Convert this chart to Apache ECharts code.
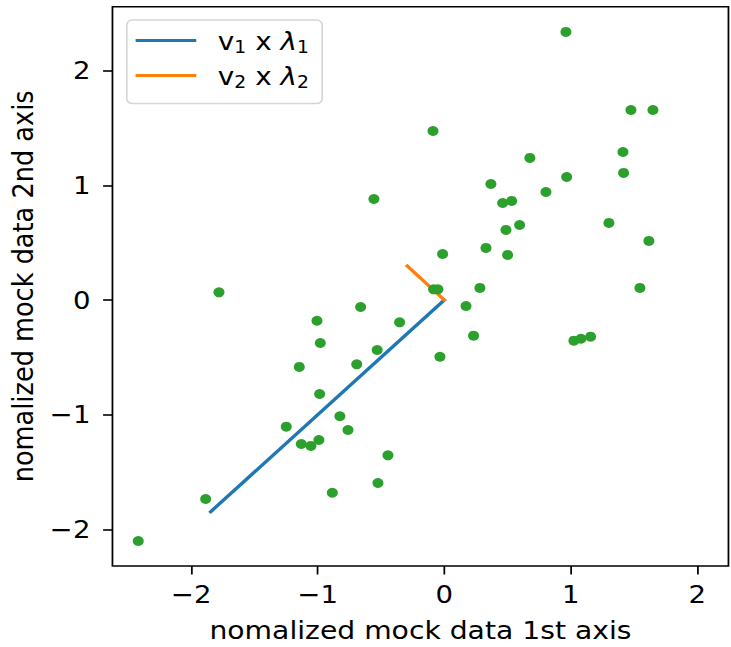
<!DOCTYPE html>
<html>
<head>
<meta charset="utf-8">
<script src="https://cdn.jsdelivr.net/npm/echarts@6/dist/echarts.min.js"></script>
<style>
html,body{margin:0;padding:0;overflow:hidden;background:#fff;}
#c{width:663px;height:647px;transform:scaleX(1.10256);transform-origin:0 0;}
</style>
</head>
<body>
<div id="c"></div>
<script>
// mock data (normalized)
var xValues = [-2.419,-1.886,-1.781,-1.249,-1.146,-1.130,-1.054,-1.006,-0.980,-0.985,
  -0.991,-0.885,-0.825,-0.761,-0.692,-0.661,-0.556,-0.530,-0.524,-0.445,
  -0.353,-0.089,-0.084,-0.050,-0.034,-0.013,0.172,0.232,0.282,0.330,
  0.369,0.462,0.488,0.501,0.533,0.596,0.677,0.804,0.962,0.968,
  1.025,1.081,1.157,1.302,1.413,1.418,1.476,1.547,1.618,1.650];
var yValues = [-2.102,-1.736,0.067,-1.105,-0.584,-1.256,-1.273,-0.181,-0.375,-0.820,
  -1.221,-1.681,-1.014,-1.134,-0.561,-0.061,0.881,-0.436,-1.596,-1.355,
  -0.195,1.474,0.093,0.093,-0.495,0.401,-0.052,-0.311,0.105,0.454,
  1.012,0.846,0.611,0.393,0.864,0.654,1.239,0.942,2.338,1.073,
  -0.355,-0.338,-0.320,0.672,1.291,1.108,1.657,0.105,0.515,1.657];
// eigenvector * eigenvalue segments (from origin)
var pc1 = [[0, 0], [-1.846, -1.846]];
var pc2 = [[0, 0], [-0.292, 0.297]];
var seriesNames = ['pc1', 'pc2'];
var xTicks = [-2, -1, 0, 1, 2];
var yTicks = [-2, -1, 0, 1, 2];
var xTitle = 'nomalized mock data 1st axis';
var yTitle = 'nomalized mock data 2nd axis';

var points = xValues.map(function (x, i) { return [x, yValues[i]]; });
var FONT = 'DejaVu Sans';
function fmt(v) { return v < 0 ? '\u2212' + Math.abs(v) : String(v); }

var chart = echarts.init(document.getElementById('c'), null, {renderer: 'svg', width: 663, height: 647});
chart.setOption({
  animation: false,
  backgroundColor: '#fff',
  grid: {left: 102, right: 2.3, top: 6.7, bottom: 81, show: true, borderColor: '#000', borderWidth: 1.6, outerBoundsMode: 'none', containLabel: false},
  legend: {
    data: seriesNames,
    orient: 'vertical',
    left: 115, top: 20,
    padding: [8, 12, 13, 8],
    itemGap: 7.6,
    itemWidth: 55, itemHeight: 3,
    icon: 'rect',
    borderColor: 'rgba(204,204,204,0.8)', borderWidth: 1.5, borderRadius: 5,
    backgroundColor: 'rgba(255,255,255,0.8)',
    formatter: function (name) {
      var k = name === 'pc1' ? '1' : '2';
      return '{g|}{n|v}{s|' + k + '}{n| x }{l|\u03bb}{s|' + k + '}';
    },
    textStyle: {
      fontFamily: FONT, color: '#000', fontSize: 25,
      rich: {
        g: {width: 14.6, lineHeight: 30},
        n: {fontFamily: FONT, fontSize: 25.3, lineHeight: 30, color: '#000'},
        l: {fontFamily: FONT, fontStyle: 'italic', fontSize: 25.3, lineHeight: 30, color: '#000'},
        s: {fontFamily: FONT, fontSize: 17, lineHeight: 17, verticalAlign: 'bottom', color: '#000'}
      }
    }
  },
  xAxis: {
    type: 'value', min: -2.623, max: 2.247,
    name: xTitle, nameLocation: 'middle', nameGap: 51,
    nameTextStyle: {fontFamily: FONT, fontSize: 25.6, color: '#000'},
    axisLine: {show: false, onZero: false},
    axisTick: {show: true, length: 8.5, customValues: xTicks, lineStyle: {color: '#000', width: 1.6}},
    axisLabel: {customValues: xTicks, margin: 16, fontFamily: FONT, fontSize: 25, color: '#000', formatter: fmt},
    splitLine: {show: false}
  },
  yAxis: {
    type: 'value', min: -2.32, max: 2.558,
    name: yTitle, nameLocation: 'middle', nameGap: 66,
    nameTextStyle: {fontFamily: FONT, fontSize: 25.6, color: '#000'},
    axisLine: {show: false, onZero: false},
    axisTick: {show: true, length: 8.5, customValues: yTicks, lineStyle: {color: '#000', width: 1.6}},
    axisLabel: {customValues: yTicks, margin: 20, fontFamily: FONT, fontSize: 25, color: '#000', formatter: fmt},
    splitLine: {show: false}
  },
  series: [
    {name: 'pc1', type: 'line', data: pc1, showSymbol: false, symbol: 'none', color: '#1f77b4',
     lineStyle: {color: '#1f77b4', width: 3.2, cap: 'square'}, z: 2},
    {name: 'pc2', type: 'line', data: pc2, showSymbol: false, symbol: 'none', color: '#ff7f0e',
     lineStyle: {color: '#ff7f0e', width: 3.2, cap: 'square'}, z: 2},
    {name: 'data', type: 'scatter', data: points, symbol: 'circle', symbolSize: 10,
     itemStyle: {color: '#2ca02c', opacity: 1}, z: 3}
  ]
});
</script>
</body>
</html>
